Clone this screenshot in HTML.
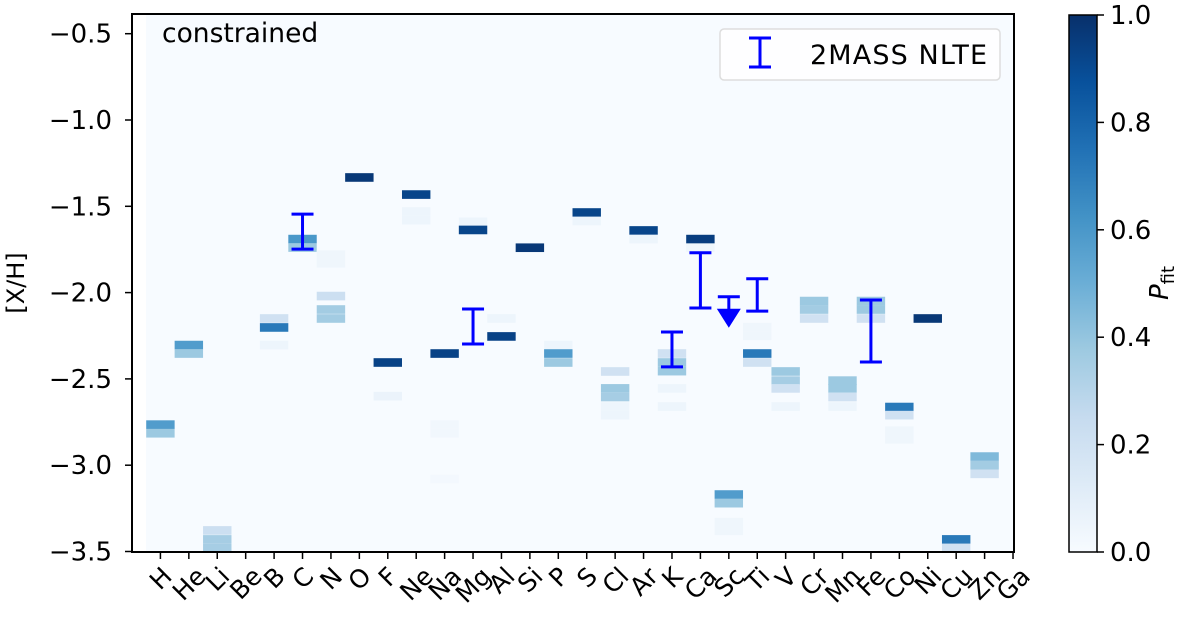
<!DOCTYPE html>
<html><head><meta charset="utf-8"><style>
body{margin:0;background:#fff;}
svg text{font-family:"DejaVu Sans","Liberation Sans",sans-serif;}
</style></head><body>
<svg id="chart" width="1200" height="627" viewBox="0 0 1200 627" xmlns="http://www.w3.org/2000/svg">
<defs>
<linearGradient id="blues" x1="0" y1="1" x2="0" y2="0">
<stop offset="0" stop-color="#f7fbff"/><stop offset="0.125" stop-color="#deebf7"/><stop offset="0.25" stop-color="#c6dbef"/><stop offset="0.375" stop-color="#9ecae1"/><stop offset="0.5" stop-color="#6baed6"/><stop offset="0.625" stop-color="#4292c6"/><stop offset="0.75" stop-color="#2171b5"/><stop offset="0.875" stop-color="#08519c"/><stop offset="1" stop-color="#08306b"/>
</linearGradient>
</defs>
<rect x="146" y="14" width="868" height="538" fill="#f7fbff"/>
<g id="cells"></g>
<g id="errs"></g>
<rect x="132" y="14" width="882" height="538" fill="none" stroke="#000" stroke-width="2"/>
<g id="yticks"></g>
<g id="xticks"></g>
<text x="24" y="283" font-size="24" text-anchor="middle" transform="rotate(-90 24 283)">[X/H]</text>
<text x="162" y="42" font-size="26.5">constrained</text>
<g>
<rect x="720" y="29" width="280" height="51" rx="4" fill="#fff" fill-opacity="0.8" stroke="#ddd" stroke-width="1.5"/>
<g stroke="#0000ff" stroke-width="3"><line x1="760" y1="38" x2="760" y2="67"/><line x1="749" y1="38" x2="771" y2="38"/><line x1="749" y1="67" x2="771" y2="67"/></g>
<text x="810" y="64" font-size="27" textLength="177">2MASS NLTE</text>
</g>
<rect x="1069" y="15" width="28" height="537" fill="url(#blues)" stroke="#000" stroke-width="1.5"/>
<g id="cbticks"></g>
<text x="1168" y="283" font-size="26" font-style="italic" text-anchor="middle" transform="rotate(-90 1168 283)">P<tspan font-size="18" font-style="normal" dy="6">fit</tspan></text>
</svg>
<script>
const elements=["H","He","Li","Be","B","C","N","O","F","Ne","Na","Mg","Al","Si","P","S","Cl","Ar","K","Ca","Sc","Ti","V","Cr","Mn","Fe","Co","Ni","Cu","Zn","Ga"];
const yTicks=[-0.5,-1.0,-1.5,-2.0,-2.5,-3.0,-3.5];
const cbTicks=[0,0.2,0.4,0.6,0.8,1.0];
// heatmap cells: element index, [X/H] bin centre, probability
const cellElem=[0,0,1,1,2,2,2,4,4,4,5,5,6,6,6,6,6,7,8,8,9,9,9,10,10,10,10,11,11,12,12,13,14,14,14,15,15,16,16,16,16,16,17,17,18,18,18,18,18,19,19,20,20,20,20,21,21,21,21,22,22,22,22,23,23,23,24,24,24,24,25,25,25,26,26,26,26,27,28,28,29,29,29];
const cellVal=[-2.765,-2.815,-2.304,-2.353,-3.378,-3.43,-3.48,-2.15,-2.202,-2.304,-1.69,-1.739,-1.78,-1.83,-2.02,-2.098,-2.15,-1.333,-2.405,-2.6,-1.432,-1.53,-1.58,-2.353,-2.765,-2.815,-3.08,-1.59,-1.637,-2.15,-2.254,-1.74,-2.304,-2.353,-2.405,-1.536,-1.585,-2.457,-2.555,-2.605,-2.66,-2.71,-1.64,-1.69,-2.353,-2.405,-2.455,-2.555,-2.66,-1.69,-1.74,-3.17,-3.22,-3.33,-3.38,-2.2,-2.25,-2.353,-2.405,-2.457,-2.51,-2.555,-2.66,-2.049,-2.098,-2.15,-2.51,-2.555,-2.605,-2.66,-2.049,-2.098,-2.15,-2.663,-2.71,-2.8,-2.85,-2.15,-3.43,-3.48,-2.95,-3.0,-3.05];
const cellProb=[0.58,0.38,0.58,0.38,0.22,0.35,0.35,0.2,0.72,0.05,0.6,0.38,0.04,0.04,0.22,0.36,0.36,0.97,0.93,0.06,0.92,0.05,0.05,0.93,0.03,0.03,0.02,0.05,0.92,0.05,0.93,0.97,0.05,0.58,0.38,0.92,0.05,0.2,0.38,0.35,0.05,0.05,0.92,0.05,0.2,0.38,0.38,0.05,0.05,0.95,0.04,0.58,0.38,0.04,0.04,0.04,0.04,0.72,0.2,0.38,0.35,0.2,0.05,0.38,0.36,0.2,0.38,0.38,0.2,0.05,0.38,0.38,0.2,0.72,0.2,0.04,0.04,0.97,0.72,0.2,0.45,0.36,0.2];
// error bars (2MASS NLTE)
const errElem=[5,11,18,19,21,25];
const errLow=[-1.748,-2.298,-2.43,-2.089,-2.107,-2.402];
const errHigh=[-1.545,-2.095,-2.228,-1.769,-1.92,-2.043];
const limElem=[20];
const limVal=[-2.024];

const NS="http://www.w3.org/2000/svg";
const X0=132,CW=28.42,YB=551.5,YS=172.6,BIN=0.05;
const xPos=i=>X0+(i+1)*CW;
const yPos=v=>YB-(v+3.5)*YS;
const stops=[[247,251,255],[222,235,247],[198,219,239],[158,202,225],[107,174,214],[66,146,198],[33,113,181],[8,81,156],[8,48,107]];
function cmap(p){p=Math.max(0,Math.min(1,p));const t=p*8,i=Math.min(7,Math.floor(t)),f=t-i;const c=stops[i].map((a,k)=>Math.round(a+(stops[i+1][k]-a)*f));return `rgb(${c})`;}
function mk(tag,attrs,parent){const e=document.createElementNS(NS,tag);for(const k in attrs)e.setAttribute(k,attrs[k]);parent.appendChild(e);return e;}
const cells=document.getElementById('cells');
for(let j=0;j<cellVal.length;j++){
  const x=xPos(cellElem[j])-CW/2,y1=yPos(cellVal[j]+BIN/2),y2=Math.min(yPos(cellVal[j]-BIN/2),552);
  const r=mk('rect',{x:x,y:y1,width:CW,height:y2-y1,fill:cmap(cellProb[j])},cells);
  
  
}
const errs=document.getElementById('errs');
for(let j=0;j<errElem.length;j++){
  const x=xPos(errElem[j]),a=yPos(errHigh[j]),b=yPos(errLow[j]);
  const g=mk('g',{stroke:'#0000ff','stroke-width':3},errs);
  
  
  mk('line',{x1:x,y1:a,x2:x,y2:b},g);mk('line',{x1:x-11,y1:a,x2:x+11,y2:a},g);mk('line',{x1:x-11,y1:b,x2:x+11,y2:b},g);
}
for(let j=0;j<limElem.length;j++){
  const x=xPos(limElem[j]),a=yPos(limVal[j]);
  const g=mk('g',{},errs);
  
  
  mk('line',{x1:x-11,y1:a,x2:x+11,y2:a,stroke:'#0000ff','stroke-width':3},g);
  mk('line',{x1:x,y1:a,x2:x,y2:a+14,stroke:'#0000ff','stroke-width':3},g);
  mk('polygon',{points:`${x-12},${a+12} ${x+12},${a+12} ${x},${a+31}`,fill:'#0000ff'},g);
}
const yt=document.getElementById('yticks');
yTicks.forEach(v=>{const y=yPos(v);
  const l=mk('line',{x1:125,y1:y,x2:132,y2:y,stroke:'#000','stroke-width':1.5},yt);
  
  
  const t=mk('text',{x:112,y:y+9,'font-size':26,'text-anchor':'end'},yt);t.textContent=v.toFixed(1).replace('-','\u2212');
  
  
});
const xt=document.getElementById('xticks');
elements.forEach((e,i)=>{const x=xPos(i);
  const l=mk('line',{x1:x,y1:552,x2:x,y2:559,stroke:'#000','stroke-width':1.5},xt);
  
  
  const t=mk('text',{x:0,y:0,'font-size':25,'text-anchor':'middle'},xt);t.textContent=e;
  
  
  const w=t.getComputedTextLength(),h=24;
  const bb=(w+h)*0.7071;
  const cx=x, cy=563+bb/2;
  t.setAttribute('x',cx);t.setAttribute('y',cy+9);
  t.setAttribute('transform',`rotate(-45 ${cx} ${cy})`);
});
const cb=document.getElementById('cbticks');
cbTicks.forEach(v=>{const y=552-v*537;
  const l=mk('line',{x1:1097,y1:y,x2:1104,y2:y,stroke:'#000','stroke-width':1.5},cb);
  
  
  const t=mk('text',{x:1110,y:y+9,'font-size':26},cb);t.textContent=v.toFixed(1);
  
  
});
</script>
</body></html>
